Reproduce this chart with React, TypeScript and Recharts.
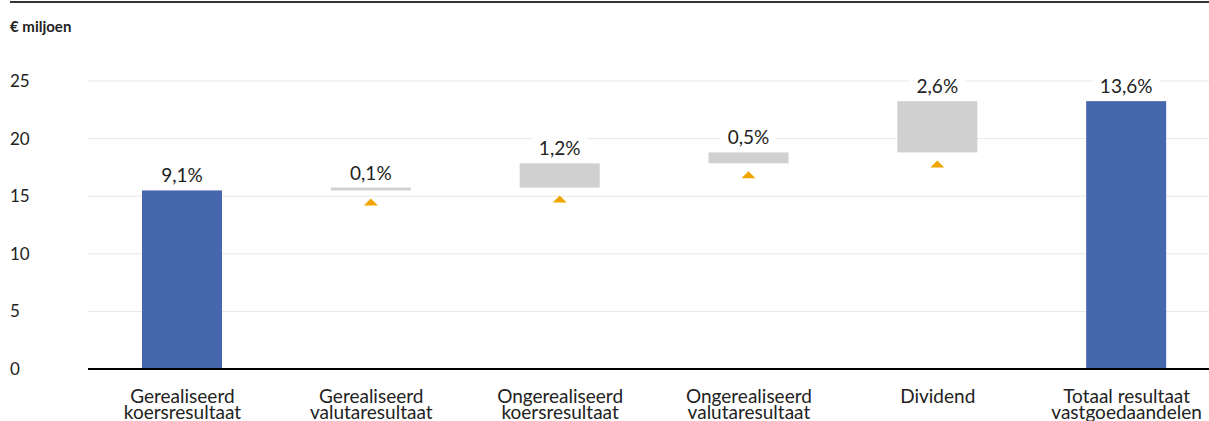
import React from 'react';
import { BarChart, Bar, XAxis, YAxis, CartesianGrid, Cell, LabelList } from 'recharts';

const categories = [
  'Gerealiseerd\nkoersresultaat',
  'Gerealiseerd\nvalutaresultaat',
  'Ongerealiseerd\nkoersresultaat',
  'Ongerealiseerd\nvalutaresultaat',
  'Dividend',
  'Totaal resultaat\nvastgoedaandelen',
];
// € miljoen per step; first and last are full columns
const amounts = [15.5, 0.25, 2.1, 0.95, 4.45, 23.25];
const isTotal = [true, false, false, false, false, true];
const pctLabels = ['9,1%', '0,1%', '1,2%', '0,5%', '2,6%', '13,6%'];
const yTicks = [0, 5, 10, 15, 20, 25];

const BLUE = '#4666AE';
const GREY = '#D0D0D0';
const ORANGE = '#F0A500';
const FONT = 'Lato, "Open Sans", sans-serif';
const TEXT = '#222';

let running = 0;
const data = categories.map((name, i) => {
  const base = isTotal[i] ? 0 : running;
  if (!isTotal[i] || i === 0) running += amounts[i];
  return { name, base, value: amounts[i], total: isTotal[i], label: pctLabels[i] };
});

const StepShape = (props: any) => {
  const { x, y, width, height, fill, payload } = props;
  const bottom = y + height;
  const cx = x + width / 2;
  return (
    <g>
      <rect x={x} y={y} width={width} height={height} fill={fill} />
      {!payload.total && (
        <polygon
          points={`${cx - 7},${bottom + 15} ${cx + 7},${bottom + 15} ${cx},${bottom + 8}`}
          fill={ORANGE}
        />
      )}
    </g>
  );
};

const ValueLabel = (props: any) => {
  const { x, y, width, value } = props;
  const cx = x + width / 2;
  const w = String(value).length * 10.5 + 14;
  return (
    <g>
      <rect x={cx - w / 2} y={y - 28} width={w} height={23} fill="#fff" />
      <text x={cx} y={y - 8} textAnchor="middle" fontSize={19} fontFamily={FONT} fill={TEXT}>
        {value}
      </text>
    </g>
  );
};

const YTick = (props: any) => {
  const { y, payload } = props;
  return (
    <text x={10} y={y + 6} textAnchor="start" fontSize={17} fontFamily={FONT} fill={TEXT}>
      {payload.value}
    </text>
  );
};

const XTick = (props: any) => {
  const { x, payload } = props;
  const lines = String(payload.value).split('\n');
  // first line baseline sits 34px under the zero line
  const top = 369 + 34;
  return (
    <text x={x} y={top} textAnchor="middle" fontSize={19} fontFamily={FONT} fill={TEXT}>
      {lines.map((l, i) => (
        <tspan key={i} x={x} dy={i === 0 ? 0 : 16}>
          {l}
        </tspan>
      ))}
    </text>
  );
};

export default function App() {
  return (
    <div
      style={{
        position: 'fixed',
        left: 0,
        top: 0,
        width: 1209,
        height: 421,
        overflow: 'hidden',
        background: '#fff',
      }}
    >
      <div style={{ position: 'absolute', left: 10, right: 0, top: 1, height: 2, background: '#333' }} />
      <div
        style={{
          position: 'absolute',
          left: 10,
          top: 17,
          fontFamily: FONT,
          fontSize: 15,
          fontWeight: 700,
          color: TEXT,
        }}
      >
        € miljoen
      </div>
      <BarChart
        width={1221}
        height={421}
        data={data}
        margin={{ top: 81, right: 0, bottom: 0, left: 0 }}
        barSize={80}
      >
        <CartesianGrid vertical={false} stroke="#e8e8e8" />
        <XAxis
          dataKey="name"
          height={52}
          axisLine={{ stroke: '#000', strokeWidth: 2 }}
          tickLine={false}
          tick={<XTick />}
          interval={0}
        />
        <YAxis
          width={88}
          domain={[0, 25]}
          ticks={yTicks}
          axisLine={false}
          tickLine={false}
          tick={<YTick />}
        />
        <Bar dataKey="base" stackId="w" fill="transparent" isAnimationActive={false} />
        <Bar dataKey="value" stackId="w" shape={<StepShape />} isAnimationActive={false}>
          {data.map((d, i) => (
            <Cell key={i} fill={d.total ? BLUE : GREY} />
          ))}
          <LabelList dataKey="label" content={<ValueLabel />} />
        </Bar>
      </BarChart>
    </div>
  );
}
